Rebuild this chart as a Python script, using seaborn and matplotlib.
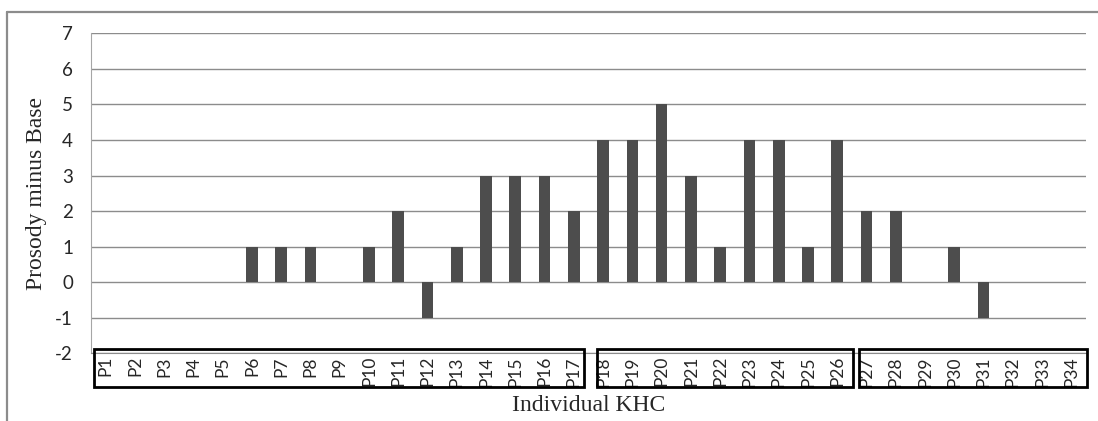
import numpy as np
import pandas as pd
import seaborn as sns
import matplotlib.pyplot as plt
from matplotlib.patches import Rectangle
from matplotlib.lines import Line2D

# data
participants = ["P%d" % i for i in range(1, 35)]
diff_values = [0, 0, 0, 0, 0, 1, 1, 1, 0, 1,
               2, -1, 1, 3, 3, 3, 2, 4, 4, 5,
               3, 1, 4, 4, 1, 4, 2, 2, 0, 1,
               -1, 0, 0, 0]
y_ticks = list(range(-2, 8))
# groups boxed under the x axis (first, last participant index)
groups = [(0, 16), (17, 25), (26, 33)]

df = pd.DataFrame({"participant": participants, "diff": diff_values})

sns.set_style("white")
plt.rcParams["axes.unicode_minus"] = False
fig = plt.figure(figsize=(10.98, 4.21), dpi=100)
ax = fig.add_axes([0.0829, 0.1608, 0.9061, 0.7602])

sns.barplot(data=df, x="participant", y="diff", color="#4d4d4d",
            saturation=1, width=0.4, linewidth=0, ax=ax, zorder=3)

ax.set_ylim(-2, 7)
ax.set_xlim(-0.5, len(participants) - 0.5)
ax.set_yticks(y_ticks)
ax.yaxis.grid(True, color="#8c8c8c", linewidth=1)
ax.set_axisbelow(True)
for s in ["top", "right"]:
    ax.spines[s].set_visible(False)
ax.spines["left"].set_color("#a6a6a6")
ax.spines["bottom"].set_color("#8c8c8c")
ax.tick_params(axis="y", length=6, color="#8c8c8c", pad=7, labelsize=13.5)
ax.tick_params(axis="x", length=0, pad=2, labelsize=12.5, rotation=90)
for lab in ax.get_yticklabels() + ax.get_xticklabels():
    lab.set_family("Lato")

ax.set_xlabel("Individual KHC", family="Liberation Serif", fontsize=17, labelpad=6)
ax.set_ylabel("Prosody minus Base", family="Liberation Serif", fontsize=17, labelpad=6)

# boxes around the groups of tick labels
offsets = [(-0.40, 0.34), (-0.21, 0.53), (-0.26, 0.53)]
for (a, b), (l, r) in zip(groups, offsets):
    x0 = a + l
    x1 = b + r
    ax.add_patch(Rectangle((x0, -2.94), x1 - x0, 1.07, fill=False,
                           edgecolor="black", linewidth=2, clip_on=False, zorder=5))

# outer chart frame (cut off at right and bottom)
fig.add_artist(Line2D([7 / 1098, 7 / 1098], [0, 1 - 12 / 421],
                      color="#8c8c8c", linewidth=1.6))
fig.add_artist(Line2D([7 / 1098, 1], [1 - 12 / 421, 1 - 12 / 421],
                      color="#8c8c8c", linewidth=1.6))

fig.savefig("out.png", dpi=100)
